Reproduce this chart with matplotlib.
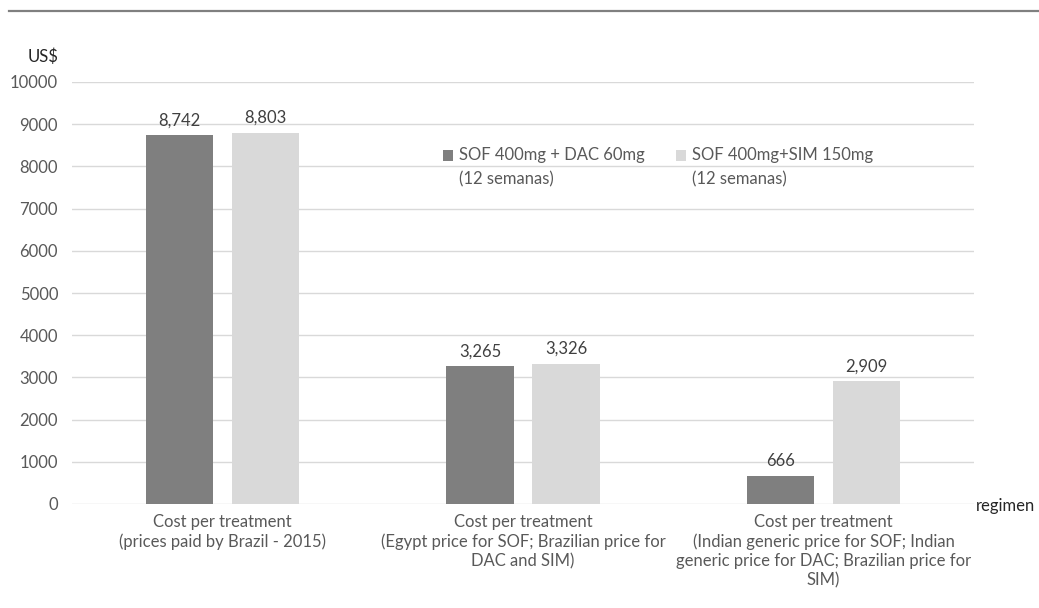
import matplotlib.pyplot as plt
import numpy as np
from matplotlib.lines import Line2D

plt.rcParams['font.family'] = ['Lato', 'DejaVu Sans']

# Treatment cost per regimen (US$)
categories = [
    "Cost per treatment\n(prices paid by Brazil - 2015)",
    "Cost per treatment\n(Egypt price for SOF; Brazilian price for\nDAC and SIM)",
    "Cost per treatment\n(Indian generic price for SOF; Indian\ngeneric price for DAC; Brazilian price for\nSIM)",
]
sof_dac = [8742, 3265, 666]
sof_sim = [8803, 3326, 2909]
series_labels = ["SOF 400mg + DAC 60mg\n(12 semanas)", "SOF 400mg+SIM 150mg\n(12 semanas)"]

dark = '#7f7f7f'
light = '#d9d9d9'
text_col = '#595959'
fs = 12

fig = plt.figure(figsize=(10.39, 6.08), dpi=100)
ax = fig.add_axes([72 / 1039, 1 - 504 / 608, 902 / 1039, 422 / 608])

x = np.arange(len(categories))
width = 0.223
off = 0.143

b1 = ax.bar(x - off, sof_dac, width, color=dark, label=series_labels[0])
b2 = ax.bar(x + off, sof_sim, width, color=light, label=series_labels[1])

for bars in (b1, b2):
    ax.bar_label(bars, labels=[f'{v:,.0f}' for v in bars.datavalues],
                 padding=5, fontsize=fs, color='#404040')

ax.set_xlim(-0.5, 2.5)
ax.set_ylim(0, 10000)
ax.set_yticks(np.arange(0, 10001, 1000))
ax.tick_params(axis='y', length=0, pad=10, labelsize=fs, labelcolor=text_col)
ax.tick_params(axis='x', length=0, pad=7, labelsize=fs, labelcolor=text_col)
ax.set_xticks(x)
ax.set_xticklabels(categories, linespacing=1.25)
ax.grid(axis='y', color='#d9d9d9', linewidth=1)
ax.set_axisbelow(True)
for s in ax.spines.values():
    s.set_visible(False)

ax.text(-0.049, 1.06, 'US$', transform=ax.transAxes, ha='left', va='center',
        fontsize=fs, color='#262626')
ax.text(1.002, -0.005, 'regimen', transform=ax.transAxes, ha='left', va='center',
        fontsize=fs, color='#262626', clip_on=False)

leg = ax.legend(loc='upper left', bbox_to_anchor=(0.402, 0.865), ncol=2, frameon=False,
                fontsize=fs, handlelength=0.6, handleheight=0.6, handletextpad=0.36,
                columnspacing=1.9, borderpad=0, labelcolor=text_col)
for t in leg.get_texts():
    t.set_linespacing(1.6)
# keep the swatch level with the first line of each label
for h in leg.legend_handles:
    h.set_y(h.get_y() + 9)

# separator rule across the top
fig.add_artist(Line2D([9 / 1039, 1], [1 - 11 / 608, 1 - 11 / 608],
                      color='#808080', linewidth=1.6))

fig.savefig('out.png', dpi=100)
